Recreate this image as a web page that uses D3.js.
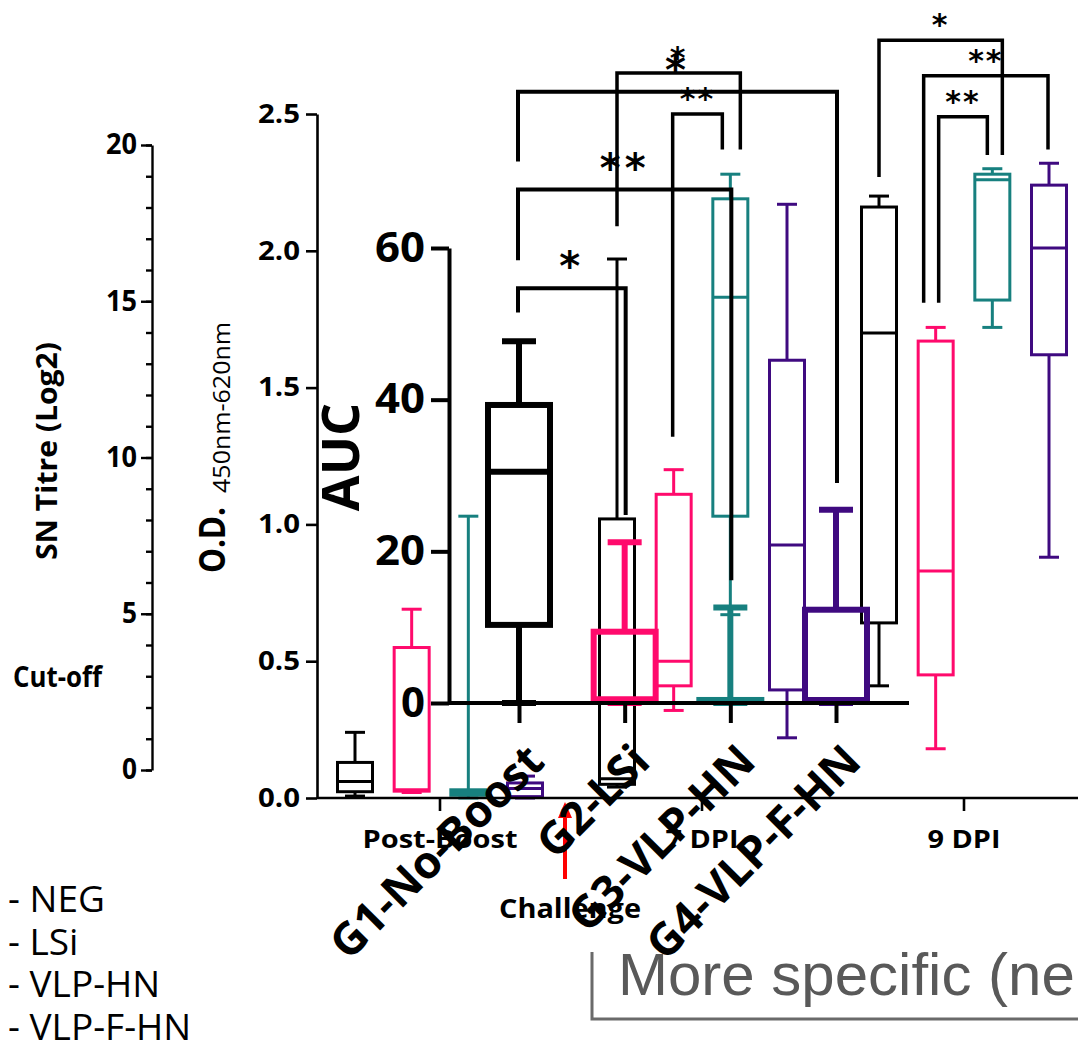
<!DOCTYPE html>
<html>
<head>
<meta charset="utf-8">
<script src="https://cdn.jsdelivr.net/npm/d3@7"></script>
<style>
  body { margin: 0; background: #fff; }
  svg { display: block; }
</style>
</head>
<body>
<svg id="chart" width="1078" height="1046"></svg>
<script>
// ---- SN titre panel (axis only) ----
const snMajor = [0, 5, 10, 15, 20];
const snMinor = d3.range(0, 21);

// ---- O.D. panel ----
const odGroups = ["Post-Boost", "7 DPI", "9 DPI"];
const odSeries = ["NEG", "LSi", "VLP-HN", "VLP-F-HN"];
const odTicks = [0, 0.5, 1.0, 1.5, 2.0, 2.5];
// box stats per group: [min, q1, median, q3, max]
const odNEG     = [[0.007, 0.023, 0.06, 0.13, 0.24], [0.04, 0.05, 0.07, 1.02, 1.97], [0.41, 0.64, 1.70, 2.16, 2.20]];
const odLSi     = [[0.02, 0.025, 0.03, 0.55, 0.69],  [0.32, 0.41, 0.50, 1.11, 1.20], [0.18, 0.45, 0.83, 1.67, 1.72]];
const odVLPHN   = [[0.0, 0.01, 0.02, 0.03, 1.03],    [0.67, 1.03, 1.83, 2.19, 2.28], [1.72, 1.82, 2.26, 2.28, 2.30]];
const odVLPFHN  = [[0.0, 0.005, 0.035, 0.055, 0.08], [0.22, 0.395, 0.925, 1.60, 2.17], [0.88, 1.62, 2.01, 2.24, 2.32]];
// significance brackets: group, from/to series, bar level, leg ends, label
const odBrackets = [
  { group: "7 DPI", from: "NEG", to: "VLP-HN", level: 2.65, legs: [2.09, 2.37], label: "*" },
  { group: "7 DPI", from: "LSi", to: "VLP-HN", level: 2.50, legs: [1.32, 2.37], label: "**" },
  { group: "9 DPI", from: "NEG", to: "VLP-HN", level: 2.77, legs: [2.27, 2.35], label: "*" },
  { group: "9 DPI", from: "LSi", to: "VLP-F-HN", level: 2.64, legs: [1.81, 2.37], label: "**" },
  { group: "9 DPI", from: "LSi", to: "VLP-HN", level: 2.49, legs: [1.81, 2.35], label: "**" }
];

// ---- AUC panel ----
const aucGroups = ["G1-No-Boost", "G2-LSi", "G3-VLP-HN", "G4-VLP-F-HN"];
const aucTicks = [0, 20, 40, 60];
const aucBoxes = [[0, 10.3, 30.5, 39.3, 47.7], [0, 0.4, 0.5, 9.4, 21.2], [0, 0.2, 0.3, 0.4, 12.6], [0, 0.3, 0.4, 12.3, 25.5]];
const aucBrackets = [
  { from: "G1-No-Boost", to: "G2-LSi", level: 54.7, legs: [51.5, 24.8], label: "*" },
  { from: "G1-No-Boost", to: "G3-VLP-HN", level: 67.7, legs: [58.4, 16.2], label: "**" },
  { from: "G1-No-Boost", to: "G4-VLP-F-HN", level: 80.6, legs: [71.4, 29.0], label: "*" }
];

const legendItems = ["- NEG", "- LSi", "- VLP-HN", "- VLP-F-HN"];

const odStats = { "NEG": odNEG, "LSi": odLSi, "VLP-HN": odVLPHN, "VLP-F-HN": odVLPFHN };
const color = { "NEG": "#000000", "LSi": "#ff0a6c", "VLP-HN": "#17807f", "VLP-F-HN": "#3f0a80" };
const aucColor = ["#000000", "#ff0a6c", "#17807f", "#3f0a80"];

const sans = "'Open Sans', sans-serif";
const wide = "'DejaVu Sans', sans-serif";

const svg = d3.select("#chart");

/** draw one box + whiskers */
function drawBox(g, cx, s, yS, o) {
  const [mn, q1, md, q3, mx] = s;
  const b = g.append("g")
    .attr("stroke", o.color)
    .attr("stroke-width", o.sw)
    .attr("fill", "none");
  b.append("line").attr("x1", cx).attr("x2", cx).attr("y1", yS(mx)).attr("y2", yS(q3));
  b.append("line").attr("x1", cx).attr("x2", cx).attr("y1", yS(q1)).attr("y2", yS(mn));
  b.append("line").attr("x1", cx - o.cap / 2).attr("x2", cx + o.cap / 2).attr("y1", yS(mx)).attr("y2", yS(mx));
  b.append("line").attr("x1", cx - o.cap / 2).attr("x2", cx + o.cap / 2).attr("y1", yS(mn)).attr("y2", yS(mn));
  b.append("rect")
    .attr("x", cx - o.w / 2).attr("y", yS(q3))
    .attr("width", o.w).attr("height", Math.max(0, yS(q1) - yS(q3)));
  b.append("line").attr("x1", cx - o.w / 2).attr("x2", cx + o.w / 2).attr("y1", yS(md)).attr("y2", yS(md));
}

/** draw one significance bracket */
function drawBracket(g, x1, x2, yS, d, o) {
  g.append("path")
    .attr("d", "M" + x1 + "," + yS(d.legs[0]) + "V" + yS(d.level) + "H" + x2 + "V" + yS(d.legs[1]))
    .attr("fill", "none")
    .attr("stroke", "#000")
    .attr("stroke-width", o.sw);
  g.append("text")
    .attr("x", (x1 + x2) / 2)
    .attr("y", yS(d.level) - o.lift)
    .attr("text-anchor", "middle")
    .attr("font-family", wide)
    .attr("font-weight", "bold")
    .attr("font-size", o.fs)
    .attr("letter-spacing", o.ls || 0)
    .text(d.label);
}

/* ===================== SN titre axis ===================== */
const snY = d3.scaleLinear().domain([0, 20]).range([770, 145]);
const snG = svg.append("g").attr("transform", "translate(152,0)");
snG.append("g")
  .call(d3.axisLeft(snY).tickValues(snMinor).tickSize(6).tickSizeOuter(0).tickFormat(""))
  .call(g => g.select(".domain").remove());
snG.append("g")
  .call(d3.axisLeft(snY).tickValues(snMajor).tickSize(11).tickSizeOuter(0).tickPadding(4))
  .attr("font-family", sans).attr("font-weight", "bold").attr("font-size", 28)
  .call(g => g.selectAll("text")
    .attr("textLength", d => d >= 10 ? 31 : 15)
    .attr("lengthAdjust", "spacingAndGlyphs"));
snG.selectAll("line, path").attr("stroke-width", 2.4);

svg.append("text")
  .attr("transform", "translate(57,560) rotate(-90)")
  .attr("font-family", sans).attr("font-weight", "bold").attr("font-size", 29)
  .attr("textLength", 218).attr("lengthAdjust", "spacingAndGlyphs")
  .text("SN Titre (Log2)");

svg.append("text")
  .attr("x", 13).attr("y", 687)
  .attr("font-family", sans).attr("font-weight", "bold").attr("font-size", 28)
  .attr("textLength", 89).attr("lengthAdjust", "spacingAndGlyphs")
  .text("Cut-off");

/* ===================== O.D. panel ===================== */
const odY = d3.scaleLinear().domain([0, 2.5]).range([798, 114]);
const odX = d3.scaleBand().domain(odGroups).range([309, 1095]);
const odInner = d3.scalePoint().domain(odSeries).range([-85, 85]);
const odCx = (g, s) => odX(g) + odX.bandwidth() / 2 + odInner(s);

const od = svg.append("g");

// boxes
odSeries.forEach(s => {
  odGroups.forEach((g, i) => {
    drawBox(od, odCx(g, s), odStats[s][i], odY, { color: color[s], sw: 3, w: 35, cap: 20 });
  });
});

// y axis
const odYAxis = od.append("g")
  .attr("transform", "translate(317,0)")
  .call(d3.axisLeft(odY).tickValues(odTicks).tickFormat(d3.format(".1f")).tickSize(11).tickSizeOuter(0).tickPadding(6))
  .attr("font-family", sans).attr("font-weight", "bold").attr("font-size", 26);
odYAxis.selectAll("text").attr("textLength", 42).attr("lengthAdjust", "spacingAndGlyphs");
odYAxis.selectAll("line, path").attr("stroke-width", 2.6);

// x axis
const odXAxis = od.append("g")
  .attr("transform", "translate(0,798)")
  .call(d3.axisBottom(odX).tickSize(13).tickSizeOuter(0).tickPadding(16))
  .attr("font-family", sans).attr("font-weight", "bold").attr("font-size", 25);
odXAxis.select(".domain").attr("d", "M317,0H1078");
odXAxis.selectAll("line, path").attr("stroke-width", 2.6);
odXAxis.selectAll("text").attr("dy", "0.85em")
  .attr("textLength", d => d === "Post-Boost" ? 155 : 73)
  .attr("lengthAdjust", "spacingAndGlyphs");

// y label with subscript
svg.append("text")
  .attr("transform", "translate(225,573) rotate(-90)")
  .attr("font-family", sans).attr("font-weight", "bold").attr("font-size", 35)
  .attr("textLength", 66).attr("lengthAdjust", "spacingAndGlyphs")
  .text("O.D.");
svg.append("text")
  .attr("transform", "translate(230,493) rotate(-90)")
  .attr("font-family", sans).attr("font-size", 24)
  .attr("textLength", 171).attr("lengthAdjust", "spacingAndGlyphs")
  .text("450nm-620nm");

// brackets
const odBracketNudge = [[0, 10], [-1, -8], [0, 10], [-12, -1], [3, -5]];
odBrackets.forEach((d, i) => {
  const x1 = odCx(d.group, d.from) + odBracketNudge[i][0];
  const x2 = odCx(d.group, d.to) + odBracketNudge[i][1];
  drawBracket(od, x1, x2, odY, d, { sw: 3.5, fs: 30, lift: 5, ls: 2 });
});

// challenge arrow
const chX = (odX("Post-Boost") + odX.bandwidth() + odX("7 DPI")) / 2 - 6;
od.append("line").attr("x1", chX).attr("x2", chX).attr("y1", 879).attr("y2", 815)
  .attr("stroke", "#ff0000").attr("stroke-width", 4);
od.append("path").attr("d", "M" + (chX - 7) + ",818L" + chX + ",802L" + (chX + 7) + ",818Z").attr("fill", "#ff0000");
od.append("text")
  .attr("x", chX + 5).attr("y", 918)
  .attr("text-anchor", "middle")
  .attr("font-family", sans).attr("font-weight", "bold").attr("font-size", 26)
  .attr("textLength", 142).attr("lengthAdjust", "spacingAndGlyphs")
  .text("Challenge");

/* ===================== AUC panel ===================== */
const aucY = d3.scaleLinear().domain([0, 60]).range([703, 248]);
const aucX = d3.scalePoint().domain(aucGroups).range([519, 836]);

const auc = svg.append("g");

aucGroups.forEach((g, i) => {
  drawBox(auc, aucX(g), aucBoxes[i], aucY, { color: aucColor[i], sw: 6, w: 62, cap: 34 });
});

const aucYAxis = auc.append("g")
  .attr("transform", "translate(449,0)")
  .call(d3.axisLeft(aucY).tickValues(aucTicks).tickSize(18).tickSizeOuter(0).tickPadding(6))
  .attr("font-family", sans).attr("font-weight", "bold").attr("font-size", 41);
aucYAxis.selectAll("text").attr("textLength", d => d === 0 ? 24 : 50).attr("lengthAdjust", "spacingAndGlyphs");
aucYAxis.selectAll("line, path").attr("stroke-width", 4);

const aucXAxis = auc.append("g")
  .attr("transform", "translate(0,703)")
  .call(d3.axisBottom(aucX).tickSize(20).tickSizeOuter(0))
  .attr("font-family", sans).attr("font-weight", "bold").attr("font-size", 45);
aucXAxis.select(".domain").attr("d", "M449,0H909");
aucXAxis.selectAll("line, path").attr("stroke-width", 4);
aucXAxis.selectAll("text")
  .attr("y", 0).attr("dy", 0)
  .attr("text-anchor", "end")
  .attr("transform", "translate(27,61) rotate(-45)");

svg.append("text")
  .attr("transform", "translate(359,457) rotate(-90)")
  .attr("text-anchor", "middle")
  .attr("font-family", sans).attr("font-weight", "bold").attr("font-size", 52)
  .text("AUC");

aucBrackets.forEach(d => {
  drawBracket(auc, aucX(d.from) - 1, aucX(d.to) + 1, aucY, d, { sw: 4, fs: 40, lift: 8, ls: 4 });
});

/* ===================== legend + note ===================== */
svg.append("g")
  .attr("font-family", sans).attr("font-size", 37)
  .selectAll("text")
  .data(legendItems)
  .join("text")
  .attr("x", 8)
  .attr("y", (d, i) => 912 + i * 42.7)
  .text(d => d);

svg.append("path")
  .attr("d", "M592,952V1019H1078")
  .attr("fill", "none").attr("stroke", "#6a6a6a").attr("stroke-width", 3);
svg.append("text")
  .attr("x", 618).attr("y", 995)
  .attr("font-family", "'Liberation Sans', Arial, sans-serif")
  .attr("font-size", 60)
  .attr("fill", "#595959")
  .text("More specific (ne");
</script>
</body>
</html>
